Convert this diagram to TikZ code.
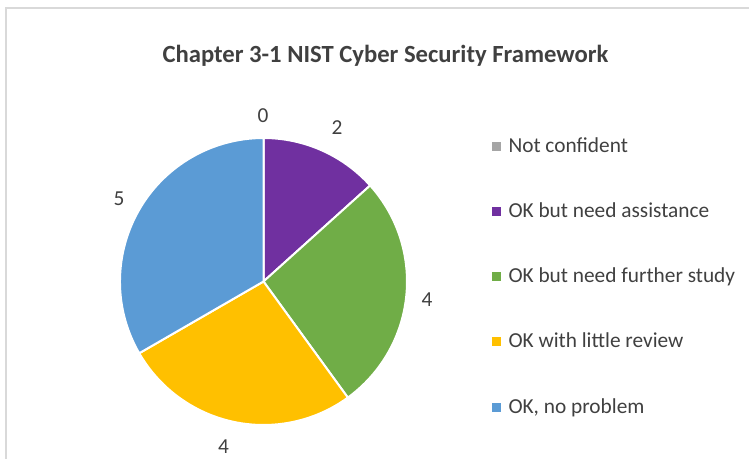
\documentclass[tikz,border=0pt]{standalone}
\usepackage{fontspec}
\setmainfont{Carlito}

\definecolor{pieGray}{RGB}{165,165,165}
\definecolor{piePurple}{RGB}{112,48,160}
\definecolor{pieGreen}{RGB}{112,173,71}
\definecolor{pieYellow}{RGB}{255,192,0}
\definecolor{pieBlue}{RGB}{91,155,213}
\definecolor{chartText}{RGB}{64,64,64}
\definecolor{chartFrame}{RGB}{217,217,217}

\tikzset{every picture/.style={line width=0.75pt}}
\tikzset{slice/.style={draw=white,line width=1.5pt,line join=round},
  datalabel/.style={anchor=base,inner sep=0.75pt,text=chartText,font=\fontsize{16}{19}\selectfont},
  legendtext/.style={anchor=base west,inner sep=0.75pt,text=chartText,font=\fontsize{16}{19}\selectfont},
  legendkey/.style={minimum size=6.75pt,inner sep=0pt}}

\begin{document}
\begin{tikzpicture}[x=0.75pt,y=0.75pt,yscale=-1,xscale=1]
\useasboundingbox (0,0) rectangle (749,459);

%Shape: Chart Area [id:frame]
\draw [color=chartFrame][line width=1.5pt] (5.5,459) -- (5.5,8.5) -- (749,8.5) ;

%Shape: Pie centre [id:O]
\coordinate (O) at (263.5,281.5);
%Shape: Slice [id:assistance]
\filldraw [slice, fill=piePurple] (O) -- ++(-90:143.5) arc (-90:-42:143.5) -- cycle ;
%Shape: Slice [id:further]
\filldraw [slice, fill=pieGreen] (O) -- ++(-42:143.5) arc (-42:54:143.5) -- cycle ;
%Shape: Slice [id:review]
\filldraw [slice, fill=pieYellow] (O) -- ++(54:143.5) arc (54:150:143.5) -- cycle ;
%Shape: Slice [id:noproblem]
\filldraw [slice, fill=pieBlue] (O) -- ++(150:143.5) arc (150:270:143.5) -- cycle ;

% Text Node
\draw (385.5,63) node [anchor=base][inner sep=0.75pt][text=chartText][font=\bfseries\fontsize{18.5}{22}\selectfont] (title) {Chapter 3-1 NIST Cyber Security Framework};

% Text Node
\draw (263,123) node [datalabel] (lblNone) {0};
% Text Node
\draw (337,135) node [datalabel] (lblAssist) {2};
% Text Node
\draw (427,307) node [datalabel] (lblFurther) {4};
% Text Node
\draw (223.5,453) node [datalabel] (lblReview) {4};
% Text Node
\draw (119,206) node [datalabel] (lblNoProb) {5};

%Shape: Legend keys
\draw (496.5,147) node [legendkey, fill=pieGray] (keyNone) {};
\draw (496.5,212) node [legendkey, fill=piePurple] (keyAssist) {};
\draw (496.5,277) node [legendkey, fill=pieGreen] (keyFurther) {};
\draw (496.5,342) node [legendkey, fill=pieYellow] (keyReview) {};
\draw (496.5,407) node [legendkey, fill=pieBlue] (keyNoProb) {};

% Text Node
\draw (507,153) node [legendtext] (txtNone) {Not confident};
% Text Node
\draw (507,218) node [legendtext] (txtAssist) {OK but need assistance};
% Text Node
\draw (507,283) node [legendtext] (txtFurther) {OK but need further study};
% Text Node
\draw (507,348) node [legendtext] (txtReview) {OK with little review};
% Text Node
\draw (507,413) node [legendtext] (txtNoProb) {OK, no problem};

\end{tikzpicture}
\end{document}
